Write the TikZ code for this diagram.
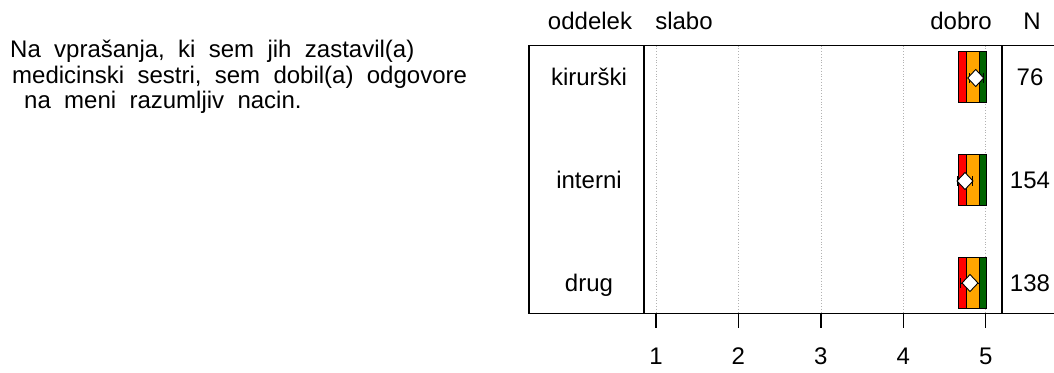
\documentclass[tikz,border=0pt]{standalone}
\usepackage{fontspec}
\setmainfont{Liberation Sans}
\definecolor{barorange}{HTML}{FFA500}
\definecolor{bargreen}{HTML}{006400}
\definecolor{barred}{HTML}{FF0000}
\begin{document}
\begin{tikzpicture}[x=1pt,y=-1pt,
  lbl/.style={font=\fontsize{24}{28}\selectfont, inner sep=0pt, anchor=base},
  ttl/.style={font=\fontsize{24}{28}\selectfont, inner sep=0pt, anchor=base west},
  frame/.style={line width=1.3pt},
  grid/.style={gray!60, dotted, line width=0.8pt},
  seg/.style={draw=black, line width=0.9pt},
  ebar/.style={line width=1pt},
  mean/.style={draw=black, fill=white, line width=0.9pt}]
\useasboundingbox (0,0) rectangle (1054,372);
% title text
\node[ttl] (t1) at (10,57.5) {Na\ \ vprašanja,\ \ ki\ \ sem\ \ jih\ \ zastavil(a)};
\node[ttl] (t2) at (12,83) {medicinski\ \ sestri,\ \ sem\ \ dobil(a)\ \ odgovore};
\node[ttl] (t3) at (24,108.5) {na\ \ meni\ \ razumljiv\ \ nacin.};
% headers
\node[lbl] (hOdd) at (590,29) {oddelek};
\node[lbl] (hSl) at (684,29) {slabo};
\node[lbl] (hDo) at (961,29) {dobro};
\node[lbl] (hN) at (1032,29) {N};
% grid
\foreach \v/\xx in {1/656,2/738.4,3/820.9,4/903.3,5/985.7}{
  \draw[grid] (\xx,45.5) -- (\xx,313.3);
  \draw[frame] (\xx,313.3) -- (\xx,328);
  \node[lbl] (tick\v) at (\xx,364) {\v};
}
% frame
\draw[frame] (1054,45.5) -- (529,45.5) -- (529,313.3) -- (1054,313.3);
\draw[frame] (644,45.5) -- (644,313.3);
\draw[frame] (1002,45.5) -- (1002,313.3);
% rows
\foreach \name/\lab/\n/\yc in {r1/kirurški/76/77, r2/interni/154/180, r3/drug/138/283}{
  \node[lbl] (\name lab) at (589,\yc+8.6) {\lab};
  \node[lbl] (\name n) at (1030,\yc+8.6) {\n};
  \fill[barred] (958,\yc-25.5) rectangle (966.7,\yc+25.5);
  \fill[barorange] (966.7,\yc-25.5) rectangle (979.3,\yc+25.5);
  \fill[bargreen] (979.3,\yc-25.5) rectangle (986,\yc+25.5);
  \draw[seg] (958,\yc-25.5) rectangle (966.7,\yc+25.5);
  \draw[seg] (966.7,\yc-25.5) rectangle (979.3,\yc+25.5);
  \draw[seg] (979.3,\yc-25.5) rectangle (986,\yc+25.5);
}
% error bars and means
\foreach \lo/\hi/\mx/\yc in {969/983/975.7/78, 957.5/972.5/965/181, 960.7/979.3/970/283}{
  \draw[ebar] (\lo,\yc) -- (\hi,\yc);
  \draw[ebar] (\lo,\yc-5) -- (\lo,\yc+5);
  \draw[ebar] (\hi,\yc-5) -- (\hi,\yc+5);
  \draw[mean] (\mx-8,\yc) -- (\mx,\yc-8.5) -- (\mx+8,\yc) -- (\mx,\yc+8.5) -- cycle;
}
\end{tikzpicture}
\end{document}
